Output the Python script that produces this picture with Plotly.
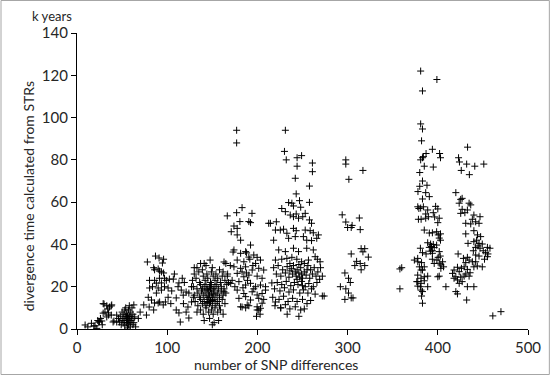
import plotly.graph_objects as go

# ---- data: (number of SNP differences, divergence time from STRs in k years) ----
group_a = [(9,1.9),(12,1),(16,2.7),(18.7,1.4),(22,0.3),(23,4),(24,3.3),(25,3.4),(27.5,3.8),(28,2),(29,7.5),(30,11.8),
           (29,12),(33,11),(33,5.7),(35,6.6),(35,7.6),(36,10.4),(38,10.9),(38.5,11.4),(38,6.6),(40,3.3),(41,3.8),(44,6.6),
           (44,3.3),(47,3.3),(31,8),(34,9.5),(26,5),(20,1.5)]

group_b = [(46,5),(48,6),(49,2),(50,8),(50,4),(51,5),(52,3),(52,7),(53,4),(53,9),(54,6),(54,10),(55,5),(55,3),(55,7),
           (56,4),(56,6),(57,9),(57,2),(57,5),(58,6),(58,4),(59,3),(59,8),(60,4),(60,6),(61,10),(61,5),(62,2),(62,7),
           (63,11.4),(63,3),(64,5.7),(65,1),(56,0.5),(59,1),(53,1.5),(58,11)]

group_c = [(74,11.4),(77,6.6),(79,15),(80.5,19.4),(83.7,20),(86,23),(88,21.7),(90,19.4),(82.6,13.7),(80,10.4),(86,12.3),
           (85,9),(90,12.3),(91.6,12.8),(95.6,11.4),(98,12.8),(93.6,18.4),(101,15),(78,31.7),(87,34.5),(91,33.6),(96,33),
           (94.7,31.2),(85,29),(86,28),(90,28.4),(91.4,27.4),(93.6,27),(96,26.5),(91.4,24),(97,24),(99,23),(102.4,23.6),
           (106.8,23.6),(80.4,23),(97,20),(110,14.7),(101,19.4),(93.6,21.8),(88,17),(116.7,24),(113,21.8),(119,22),(112,20),
           (115.6,18.4),(117.8,16),(121,17.5),(123,10.4),(113,7.6),(121,8),(114.5,3.3),(124,5.2),(130,29),(127,20),(129,15),
           (127,12.8),(124,17),(70,8),(68,5),(105,18),(108,26),(104,12),(110,9),(118,12)]

group_d = [(133,29),(141,31),(143,30),(147.6,32.6),(150,29),(163,31.7),(165,31),(137,31),
           (130,26),(135,27),(139,28),(144,26),(149,27),(154,26),(158,28),(162,27),(167,26),
           (128,23),(132,24),(136,22),(140,25),(142,23),(145,24),(148,22),(151,25),(153,23),(156,24),(159,22),(161,25),(164,23),(168,22),
           (129,20),(133,19),(137,21),(139,19),(141,20),(143,21),(145,19),(147,20),(149,21),(151,19),(153,20),(155,21),(157,19),(160,20),(163,19),(166,21),
           (130,16),(134,17),(136,15),(138,18),(140,16),(142,17),(144,15),(146,18),(147,16),(149,17),(150,15),(152,18),(154,16),(156,17),(158,15),(160,18),(162,16),(165,17),
           (131,13),(134,11),(137,14),(139,12),(141,13),(143,11),(145,14),(147,12),(148,13),(150,11),(152,14),(154,12),(156,13),(158,11),(161,14),(164,12),
           (133,8),(137,9),(140,7),(143,10),(146,8),(149,9),(151,7),(153,10),(156,8),(159,9),(162,7),
           (141,4),(147,5),(152,3),(157,4),(150,2),(144,18.5),(146,15),(148,19),(151,16.5),(145,12.5),(150,13.5)]

group_e = [(177,94),(177,88),(183,57.4),(177,55),(194,54.7),(166.6,53.5),(180.6,50.8),(190.5,50.8),(192.4,50.3),(174,48.7),
           (177.6,47.6),(171,46),(177.6,44.5),(181.4,42),(174,37.4),(187,36.6),(192.4,39.7),(181.4,35.8),(196,35),(199.7,33.9),
           (203.4,32.6),(177.6,32.6),(185,31.8),(191.6,33),(198,31),(174,29.4),(181.4,28.7),(186.9,29.4),(194.2,27.9),(201.5,28.7),
           (207,27.9),(166.6,25),(177.6,26.3),(185,24.7),(190.5,25.5),(199.7,25),(205.2,24),(170.4,21.6),(179.5,22.4),(186.9,20.8),
           (192.4,21.6),(198,20),(203.4,20.8),(209,20),(163,17.6),(177.6,18.4),(185,16.8),(194.2,17.6),(199.7,16.1),(205.2,16.8),
           (179.5,14.5),(187,15.3),(192.4,13.7),(201.5,14.5),(207,14),(181.4,10.5),(188.7,11.4),(199.7,10.5),(205.2,12.2),
           (199.7,9),(203.4,9.8),(199,6),(203,7),(183,10.4),(187,10),(190.5,11),(201.5,9),(173,36.4),(188,36),(190.5,34),
           (172,23),(175,20),(183,27),(189,23),(195,30),(170,30),(196,19),(184,19.5),(188,26.5)]

group_f = [(231,94),(230,84),(232,80),(244,81),(249,82),(244,77),(242,71.3),(261,78.5),(261,74.4),(257.7,67.6),(243,63.9),
           (257.7,59.9),(234.6,59.8),(238.2,59.5),(240,58.2),(246.7,60.7),(248,57.6),(227,57),(231,55.5),(236.4,53.9),(240,53.1),
           (243,54.4),(245.6,52.4),(250.3,53.1),(253,54.7),(257.7,51.6),(260,50),(214.4,50),(221,50.7),(212.5,50),(229,47.2),
           (232.7,45.3),(240,47.6),(243,46.5),(253,46.8),(258.5,46.5),(262,45.5),(220,46.8),(225.4,46.8),(218,42),(234.6,42.9),
           (242,43.7),(251,43.7),(254.7,42),(260,41.8),(265.8,42.9),(267.6,44.5),(223.6,37.4),(231,36.6),(240,38.2),(245.6,36.6),
           (254.7,38.2),(262,37.4),(220,32.6),(227,33),(232.7,33.4),(238.2,33.9),(243.7,33),(249,31.8),(256.6,32.6),(264,34.2),
           (266.5,33),(269.5,31.8),
           (218,29),(223,30),(228,28),(233,29.5),(236,27.5),(240,30),(244,28),(248,29),(252,27),(256,30),(259,28),(263,29),(267,27),(270,29),
           (221,26),(226,25),(231,26.5),(235,24.5),(239,26),(243,25),(246,26.5),(250,24),(254,25.5),(258,24),(261,26),(265,25),(269,23.5),(272,25),
           (222,22),(227,21),(232,22.5),(237,20.5),(241,22),(245,21),(249,22.5),(253,20),(257,21.5),(262,20),(266,22),
           (219,19),(225,18),(230,19.5),(235,17.5),(240,18.5),(247,17),(251,18.5),(256,17),(260,19),(264,16.5),(272,15.6),
           (217,15),(224,14),(229,15.5),(234,13),(239,14.5),(244,13),(250,14),(255,12),(259,13.5),(219.5,11),(226,10),(231,11.5),
           (236,9.5),(242,10.5),(248,9),(225.7,10),(209,18.4),(216,21.8),(220,12.8),(233,7),(246,6),(252,9.5),
           (238,28.5),(246,30.5),(252,31),(242,27),(249,26),(236,31),(255,28),(244,23.5),(250,20.5),(247,24.5)]

group_g = [(298,80),(298,78),(317,75),(301.4,70.8),(294,54),(298,50.6),(300,48),(304,48),(305,49),(313,52.5),(314,47),
           (304,35.5),(310,32),(308,30),(315,38),(317,36.5),(319,38),(323,34),(315,28),(314,31),(319,30),(297,26.5),(301,24),
           (303,22),(292,20),(298,19),(301,17),(297,14),(304,14.7),(306,14.7),(274,15.6),(358,28.4),(360,29),(358,19)]

group_h = [(381,122),(383,112.6),(399,118),(381,97),(383,94.6),(382,89),(394,85),(387,83),(402,83),(383,81),(384,81.5),
           (403,81),(381,80),(385,77),(395,76.6),(380,74),(380,67.5),(386.6,64.5),(390.6,62.6),(383,61.5),(377.8,57.8),(381,57.2),
           (384,57.8),(379,57),(388.8,56.3),(386.6,54.4),(397.6,58),(400,56.8),(378.5,51.9),(381.5,51.9),(386.6,52.4),(389.5,53.1),
           (395,55),(396.5,53),(401.6,52.4),(400,50.3),(385,46.8),(390.6,45.4),(394,45.5),(398.7,46),(400.5,44.5),(403,45),
           (401.6,43),(403,42),(398.7,39.7),(388.8,40.8),(392,40.2),(390.6,38.6),(380.7,38.2),(383,36.1),(387,35.5),(394,35.8),
           (401.6,36.6),(400.4,33.9),(402.7,34.5),(399,32.6),(401.6,31.1),(403.4,30.3),(405.3,31.8),(374,32.6),(377.7,33.4),
           (382,31.4),(394,33),(396,31),(385,29.4),(383,27.9),(403.4,28.7),(406.4,29.4),(377.7,25.5),(381.4,24),(385,24.7),
           (388.8,25),(377.8,22.4),(381.4,21.6),(385,22.8),(380.7,20),(388.8,20),(383,17.7),(382,15.6),(383,12.2),(400,24.7),
           (401.6,25),(409,20),(377.8,31.8),(379.6,29.4),(381.4,27.9),(376.7,22.4),(377.8,20.3),(381.4,18.4),(393,39),(395,40),
           (394,37),(396,38.5),(392,36.8),(383,70),(388,68),(378,65)]

group_i = [(433,86),(423,81),(424,79),(432,78),(441,77),(451,78),(426,75),(435,73),(420,64.5),(425.4,61.3),(427,61.8),
           (423.7,59.5),(434.7,59.5),(436.5,58.7),(427,56.6),(432.8,56.3),(425.4,54.7),(430,55),(440,53.9),(446.8,53.1),(438.3,51.9),
           (431,50),(436.5,49.7),(442,50.7),(445.7,50),(440,46.5),(431,45),(444,44.5),(447.5,43.7),(433.5,40.5),(440,41.3),(443,42),
           (445.7,40.5),(449.3,40.2),(442,38.6),(444.6,39.3),(446.8,38.2),(455,38.6),(457.8,38.2),(439.4,37),(450.4,37),(453,36.1),
           (455.6,35.5),(422.5,35.5),(442,35),(445.7,34.5),(428.4,33.4),(432.8,33.9),(431,31.4),(434.7,32.6),(438.3,31.8),(451.8,33),
           (455,34.2),(440,29.4),(443.8,29.8),(449.3,29.4),(442,31.8),(421.8,29.2),(426.2,28.7),(429.2,29.4),(418,27.9),(423.7,27.1),
           (432.8,28.2),(435.8,26.6),(416.3,26.3),(420,24.7),(421.8,23.2),(425.4,24.5),(429.2,25),(431,26),(434.7,25),(418,24),
           (423.7,21.6),(427,22.4),(432.8,20),(440,20),(420,17.7),(421.8,16.6),(432,13.7),(461,6.2),(470,8.2)]

groups = [group_a, group_b, group_c, group_d, group_e, group_f, group_g, group_h, group_i]

snp_diff = [p[0] for g in groups for p in g]
str_time = [p[1] for g in groups for p in g]

x_ticks = [0, 100, 200, 300, 400, 500]
y_ticks = [0, 20, 40, 60, 80, 100, 120, 140]

FONT = "Lato, 'Open Sans', sans-serif"
TXT = "#262626"

fig = go.Figure(go.Scatter(
    x=snp_diff, y=str_time, mode="markers",
    marker=dict(symbol="cross-thin", size=5, line=dict(width=1, color="black"), color="black"),
    hoverinfo="x+y", showlegend=False,
))

W, H = 553, 375
L, R, T, B = 77, 22, 33, 46
pw, ph = W - L - R, H - T - B

fig.update_layout(
    width=W, height=H,
    margin=dict(l=L, r=R, t=T, b=B, pad=0),
    paper_bgcolor="white", plot_bgcolor="white",
    font=dict(family=FONT, size=14, color=TXT),
    xaxis=dict(range=[0, 500], tickvals=x_ticks, showgrid=False, zeroline=False,
               showline=True, linecolor="black", linewidth=1.2,
               ticks="outside", ticklen=5, tickwidth=1, tickcolor="black",
               tickfont=dict(family=FONT, size=15, color=TXT)),
    yaxis=dict(range=[0, 140], tickvals=y_ticks, showgrid=False, zeroline=False,
               showline=True, linecolor="black", linewidth=1.2,
               ticks="outside", ticklen=5, tickwidth=1, tickcolor="black",
               tickfont=dict(family=FONT, size=15, color=TXT)),
    annotations=[
        dict(text="number of SNP differences", xref="paper", yref="paper",
             x=(277 - L) / pw, y=(H - B - 364) / ph, xanchor="center", yanchor="middle",
             showarrow=False, font=dict(family=FONT, size=14, color=TXT)),
        dict(text="divergence time calculated from STRs", xref="paper", yref="paper",
             x=(28 - L) / pw, y=(H - B - 196) / ph, xanchor="center", yanchor="middle",
             textangle=-90, showarrow=False, font=dict(family=FONT, size=14, color=TXT)),
        dict(text="k years", xref="paper", yref="paper",
             x=(52 - L) / pw, y=(H - B - 16) / ph, xanchor="center", yanchor="middle",
             showarrow=False, font=dict(family=FONT, size=13, color=TXT)),
    ],
    shapes=[dict(type="rect", xref="paper", yref="paper",
                 x0=(0.5 - L) / pw, x1=(W - 0.5 - L) / pw,
                 y0=(H - B - (H - 0.5)) / ph, y1=(H - B - 0.5) / ph,
                 line=dict(color="#a6a6a6", width=1), fillcolor="rgba(0,0,0,0)", layer="below")],
)

fig.write_html("out.html", config={"displayModeBar": False},
               post_script="document.body.style.margin='0';document.body.style.overflow='hidden';")
